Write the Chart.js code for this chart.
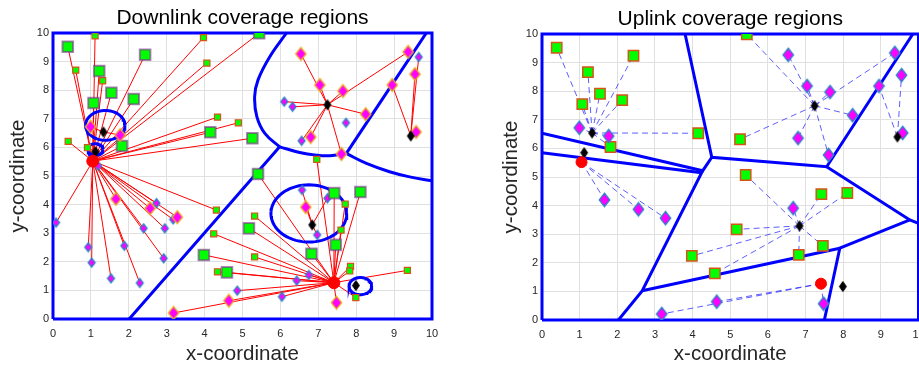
<!DOCTYPE html>
<html>
<head>
<meta charset="utf-8">
<title>Coverage regions</title>
<script src="https://cdn.jsdelivr.net/npm/chart.js@4.4.0/dist/chart.umd.min.js"></script>
<style>
  body { margin: 0; background: #fff; overflow: hidden; }
  #dl { position: absolute; left: 0; top: 0; }
  #ul { position: absolute; left: 489px; top: 0; }
</style>
</head>
<body>
<canvas id="dl" width="460" height="367"></canvas>
<canvas id="ul" width="460" height="367"></canvas>
<script>
// base stations: 0-1 macro cells (red), 2-7 small cells (black)
var macroX = [1.05, 7.41];
var macroY = [5.52, 1.27];
var smallX = [1.33, 1.12, 7.24, 9.44, 6.84, 7.99];
var smallY = [6.54, 5.85, 7.49, 6.40, 3.29, 1.17];
var serverX = macroX.concat(smallX);
var serverY = macroY.concat(smallY);

// users shown in both plots (index of serving station, downlink / uplink)
var bigSquareX  = [0.39, 1.22, 2.43, 1.54, 1.07, 2.13, 1.82, 4.15, 5.26, 5.44, 5.41, 5.17, 3.98, 4.59, 7.42, 8.11, 7.46, 6.82];
var bigSquareY  = [9.52, 8.67, 9.24, 7.91, 7.55, 7.69, 6.05, 6.53, 6.32, 9.99, 5.07, 3.17, 2.24, 1.63, 4.40, 4.44, 2.59, 2.28];
var bigSquareDL = [0, 0, 0, 0, 0, 0, 0, 0, 0, 0, 1, 1, 1, 1, 1, 1, 1, 1];
var bigSquareUL = [2, 2, 2, 2, 2, 2, 2, 2, 4, 4, 6, 6, 6, 6, 6, 6, 6, 6];

var bigDiamondX  = [0.99, 1.77, 1.66, 2.56, 3.28, 3.18, 4.64, 7.48, 6.67, 6.54, 7.04, 7.65, 8.25, 6.80, 7.61, 9.37, 9.55, 8.95, 9.58];
var bigDiamondY  = [6.72, 6.43, 4.20, 3.87, 3.56, 0.21, 0.64, 0.57, 3.91, 9.27, 8.18, 7.97, 7.16, 6.36, 5.77, 9.34, 8.56, 8.18, 6.54];
var bigDiamondDL = [2, 2, 0, 0, 0, 1, 1, 1, 6, 4, 4, 4, 4, 4, 4, 4, 5, 5, 5];
var bigDiamondUL = [2, 2, 0, 0, 0, 1, 1, 1, 6, 4, 4, 4, 4, 4, 4, 4, 5, 5, 5];

// downlink-only users
var smallSquareX  = [1.11, 0.60, 1.31, 3.97, 4.06, 4.34, 4.89, 0.40, 0.91, 4.31, 4.24, 4.34, 5.32, 5.32, 7.71, 7.60, 7.85, 7.83, 9.35, 7.99, 6.96];
var smallSquareY  = [9.90, 8.70, 8.33, 9.84, 8.95, 7.06, 6.86, 6.21, 5.99, 3.81, 2.98, 1.65, 3.60, 2.17, 4.02, 3.11, 1.84, 1.68, 1.70, 0.75, 5.58];
var smallSquareDL = [0, 0, 0, 0, 0, 0, 0, 0, 3, 0, 1, 1, 1, 1, 1, 1, 1, 1, 1, 1, 1];

var smallDiamondX  = [0.08, 0.93, 1.02, 1.53, 1.88, 2.29, 2.39, 2.95, 2.92, 2.73, 3.17, 4.86, 1.19, 6.10, 6.32, 7.73, 6.56, 9.65, 6.57, 7.24, 6.97, 6.75, 6.43, 6.04];
var smallDiamondY  = [3.37, 2.51, 1.97, 1.42, 2.56, 1.26, 3.17, 3.17, 2.12, 4.05, 3.48, 0.99, 5.35, 7.60, 7.42, 6.86, 6.23, 9.16, 4.51, 4.22, 2.94, 1.54, 1.34, 0.78];
var smallDiamondDL = [0, 0, 0, 0, 0, 0, 0, 0, 0, 0, 0, 1, 0, 4, 4, -1, 4, 5, 6, 6, 6, 1, 1, 1];

// downlink region borders
var dlCurveX = [[2.01, 5.98], [6.16, 5.72, 5.41, 5.32, 5.38, 5.59, 5.98], [5.98, 6.51, 6.95, 7.30, 7.74], [7.74, 9.85], [7.74, 8.27, 8.88, 9.41, 10]];
var dlCurveY = [[0, 6.02], [10, 9.17, 8.36, 7.77, 7.07, 6.49, 6.02], [6.02, 5.82, 5.73, 5.71, 5.79], [5.79, 10], [5.79, 5.44, 5.15, 4.97, 4.83]];
var ringX = [1.38, 1.12, 6.75, 8.11];
var ringY = [6.77, 5.93, 3.69, 1.15];
var ringR = [0.52, 0.20, 1.00, 0.30];

// uplink region borders
var ulEdgeX = [[0, 4.27, 4.51], [0, 4.24, 2.66, 2.03], [3.80, 4.51, 7.56, 9.85], [7.56, 9.77, 10], [9.77, 7.91, 7.50], [2.66, 7.91]];
var ulEdgeY = [[6.53, 5.22, 5.69], [5.85, 5.15, 1.02, 0], [10, 5.69, 5.36, 10], [5.36, 3.50, 3.38], [3.50, 2.51, 0], [1.02, 2.51]];

var boxX = [0, 10, 10, 0, 0];
var boxY = [0, 0, 10, 10, 0];

var fontFam = '"Liberation Sans", Arial, Helvetica, sans-serif';

function pts(xs, ys) {
  var out = [];
  for (var i = 0; i < xs.length; i++) out.push({x: xs[i], y: ys[i]});
  return out;
}

function links(xs, ys, srv) {
  var out = [];
  for (var i = 0; i < xs.length; i++) {
    if (srv[i] < 0) continue;
    out.push({x: serverX[srv[i]], y: serverY[srv[i]]});
    out.push({x: xs[i], y: ys[i]});
    out.push({x: xs[i], y: null});
  }
  return out;
}

function ring(cx, cy, r) {
  var out = [];
  for (var a = 0; a <= 72; a++) {
    var t = a / 72 * 2 * Math.PI;
    out.push({x: cx + r * Math.cos(t), y: cy + r * Math.sin(t)});
  }
  return out;
}

function diamond(w, h, fill, edge, lw) {
  var c = document.createElement('canvas');
  c.width = Math.ceil(w + lw * 2 + 1);
  c.height = Math.ceil(h + lw * 2 + 1);
  var g = c.getContext('2d');
  var cx = c.width / 2, cy = c.height / 2;
  g.beginPath();
  g.moveTo(cx, cy - h / 2);
  g.lineTo(cx + w / 2, cy);
  g.lineTo(cx, cy + h / 2);
  g.lineTo(cx - w / 2, cy);
  g.closePath();
  g.fillStyle = fill;
  g.fill();
  if (lw) { g.lineWidth = lw; g.strokeStyle = edge; g.stroke(); }
  return c;
}

function markers(data, style, radius, bg, edge, lw) {
  return {data: data, showLine: false, pointStyle: style, pointRadius: radius,
    pointBackgroundColor: bg, pointBorderColor: edge, pointBorderWidth: lw};
}

function border(data, width, tension) {
  return {data: data, showLine: true, pointRadius: 0, borderColor: '#0000ff',
    borderWidth: width, tension: tension || 0, spanGaps: false};
}

function options(titleText, yTitlePad) {
  return {
    responsive: false,
    animation: false,
    events: [],
    layout: {padding: {left: 0, right: 28, top: 0, bottom: 0}},
    plugins: {
      legend: {display: false},
      tooltip: {enabled: false},
      title: {display: true, fullSize: false, text: titleText, color: '#000',
        font: {family: fontFam, size: 21, weight: 'normal'}, padding: {top: 5.5, bottom: 2.3}}
    },
    scales: {
      x: {
        type: 'linear', min: 0, max: 10,
        ticks: {stepSize: 1, color: '#262626', padding: 8, maxRotation: 0, font: {family: fontFam, size: 11}},
        grid: {color: '#e0e0e0', drawTicks: false},
        border: {display: false},
        title: {display: true, text: 'x-coordinate', color: '#262626',
          font: {family: fontFam, size: 20.5}, padding: {top: 0, bottom: 0}},
        afterFit: function (s) { s.height = 48; }
      },
      y: {
        type: 'linear', min: 0, max: 10,
        ticks: {stepSize: 1, color: '#262626', padding: 4, font: {family: fontFam, size: 11}},
        grid: {color: '#e0e0e0', drawTicks: false},
        border: {display: false},
        title: {display: true, text: 'y-coordinate', color: '#262626',
          font: {family: fontFam, size: 20.5}, padding: {top: yTitlePad, bottom: 0}},
        afterFit: function (s) { s.width = 53; }
      }
    }
  };
}

// ---- downlink ----
var dlSets = [];
dlSets.push(markers(pts(macroX, macroY), 'circle', 6, '#ff0000', '#ff0000', 1));
dlSets.push(markers(pts(smallX, smallY), diamond(7, 10, '#000', '#000', 1), 5, '#000', '#000', 0));
dlSets.push(markers(pts(bigDiamondX, bigDiamondY), diamond(10.5, 13, '#ff00ff', '#edb120', 1.3), 5, '#ff00ff', '#edb120', 0));
dlSets.push(markers(pts(bigSquareX, bigSquareY), 'rect', 7.5, '#00ff00', 'rgba(126,47,142,0.6)', 2));
dlSets.push(markers(pts(smallDiamondX, smallDiamondY), diamond(7, 9, '#ff00ff', '#2b86c8', 1.3), 5, '#ff00ff', '#0072bd', 0));
dlSets.push(markers(pts(smallSquareX, smallSquareY), 'rect', 4.3, '#00ff00', '#d95319', 1.2));
dlSets.push(border(pts(boxX, boxY), 3));
dlSets[dlSets.length - 1].clip = false;
for (var i = 0; i < dlCurveX.length; i++) dlSets.push(border(pts(dlCurveX[i], dlCurveY[i]), 3, 0.4));
for (var i = 0; i < ringX.length; i++) dlSets.push(border(ring(ringX[i], ringY[i], ringR[i]), 3));
var dlLinks = links(bigSquareX, bigSquareY, bigSquareDL)
  .concat(links(bigDiamondX, bigDiamondY, bigDiamondDL))
  .concat(links(smallSquareX, smallSquareY, smallSquareDL))
  .concat(links(smallDiamondX, smallDiamondY, smallDiamondDL));
dlSets.push({data: dlLinks, showLine: true, pointRadius: 0, borderColor: '#ff0000', borderWidth: 1, spanGaps: false});

new Chart(document.getElementById('dl'), {
  type: 'scatter',
  data: {datasets: dlSets},
  options: options('Downlink coverage regions', 6.2)
});

// ---- uplink ----
var ulSets = [];
ulSets.push(markers(pts(macroX, macroY), 'circle', 5.5, '#ff0000', '#ff0000', 1));
ulSets.push(markers(pts(smallX, smallY), diamond(7, 10, '#000', '#000', 1), 5, '#000', '#000', 0));
ulSets.push(markers(pts(bigDiamondX, bigDiamondY), diamond(10.5, 13.5, '#ff00ff', '#2b86c8', 1.3), 5, '#ff00ff', '#0072bd', 0));
ulSets.push(markers(pts(bigSquareX, bigSquareY), 'rect', 7.3, '#00ff00', '#d95319', 1.5));
ulSets.push(border(pts(boxX, boxY), 3));
ulSets[ulSets.length - 1].clip = false;
for (var i = 0; i < ulEdgeX.length; i++) ulSets.push(border(pts(ulEdgeX[i], ulEdgeY[i]), 3));
var ulLinks = links(bigSquareX, bigSquareY, bigSquareUL)
  .concat(links(bigDiamondX, bigDiamondY, bigDiamondUL));
ulSets.push({data: ulLinks, showLine: true, pointRadius: 0, borderColor: 'rgba(40,40,255,0.75)',
  borderWidth: 1, borderDash: [6, 4], spanGaps: false});

var ulOpts = options('Uplink coverage regions', 10.2);
ulOpts.layout.padding.right = 30.5;
ulOpts.scales.x.afterFit = function (s) { s.height = 47; };
ulOpts.plugins.title.padding = {top: 6.5, bottom: 2.3};
new Chart(document.getElementById('ul'), {
  type: 'scatter',
  data: {datasets: ulSets},
  options: ulOpts
});
</script>
</body>
</html>
